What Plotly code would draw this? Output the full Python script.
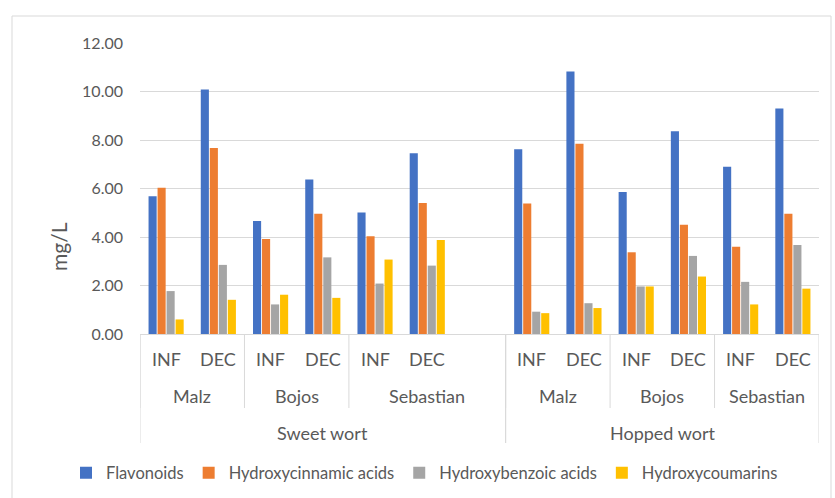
import plotly.graph_objects as go

# ---- data ----
wort = ["Sweet wort"] * 7 + ["Hopped wort"] * 6
variety = ["Malz", "Malz", "Bojos", "Bojos", "Sebastian", "Sebastian", "Sebastian",
           "Malz", "Malz", "Bojos", "Bojos", "Sebastian", "Sebastian"]
method = ["INF", "DEC", "INF", "DEC", "INF", "DEC", "",
          "INF", "DEC", "INF", "DEC", "INF", "DEC"]

flavonoids = [5.68, 10.08, 4.66, 6.37, 5.01, 7.45, None, 7.62, 10.82, 5.86, 8.36, 6.90, 9.30]
hydroxycinnamic = [6.03, 7.67, 3.92, 4.96, 4.03, 5.40, None, 5.38, 7.85, 3.37, 4.51, 3.60, 4.96]
hydroxybenzoic = [1.77, 2.85, 1.22, 3.16, 2.08, 2.82, None, 0.92, 1.27, 1.96, 3.22, 2.15, 3.67]
hydroxycoumarins = [0.60, 1.41, 1.62, 1.49, 3.07, 3.88, None, 0.86, 1.07, 1.96, 2.37, 1.22, 1.87]

series = [
    ("Flavonoids", flavonoids, "#4472C4"),
    ("Hydroxycinnamic acids", hydroxycinnamic, "#ED7D31"),
    ("Hydroxybenzoic acids", hydroxybenzoic, "#A5A5A5"),
    ("Hydroxycoumarins", hydroxycoumarins, "#FFC000"),
]

# ---- layout geometry (pixels) ----
W, H = 835, 498
L, R, T, B = 140, 16, 43, 164
pw, ph = W - L - R, H - T - B

def px_to_py(py):
    return (H - B - py) / ph

def px_to_px(px):
    return (px - L) / pw

FONT = "Lato"
GREY = "#595959"
LINE = "#D9D9D9"

n = len(method)
xs = list(range(n))

fig = go.Figure()
for name, vals, col in series:
    fig.add_trace(go.Bar(x=xs, y=vals, name=name, marker=dict(color=col, line=dict(width=0))))

shapes = []
annotations = []

# method labels
for i, m in enumerate(method):
    if m:
        annotations.append(dict(x=i, y=px_to_py(359), xref="x", yref="paper", text=m,
                                xanchor="center", yanchor="middle",
                                showarrow=False, font=dict(family=FONT, size=18, color=GREY)))

def runs_keys(keys, labels):
    out = []
    start = 0
    for i in range(1, len(keys) + 1):
        if i == len(keys) or keys[i] != keys[start]:
            out.append((start, i - 1, labels[start]))
            start = i
    return out

var_keys = [w + "|" + v for w, v in zip(wort, variety)]
var_runs = runs_keys(var_keys, variety)
wort_runs = runs_keys(wort, wort)

for s, e, lab in var_runs:
    annotations.append(dict(x=(s + e) / 2, y=px_to_py(396), xref="x", yref="paper", text=lab,
                            xanchor="center", yanchor="middle",
                            showarrow=False, font=dict(family=FONT, size=18, color=GREY)))
    shapes.append(dict(type="line", xref="x", yref="paper", x0=s - 0.5, x1=s - 0.5,
                       y0=0, y1=px_to_py(408), line=dict(color=LINE, width=1)))
for s, e, lab in wort_runs:
    annotations.append(dict(x=(s + e) / 2, y=px_to_py(433), xref="x", yref="paper", text=lab,
                            xanchor="center", yanchor="middle",
                            showarrow=False, font=dict(family=FONT, size=18, color=GREY)))
    shapes.append(dict(type="line", xref="x", yref="paper", x0=s - 0.5, x1=s - 0.5,
                       y0=0, y1=px_to_py(443), line=dict(color=LINE, width=1)))
    shapes.append(dict(type="line", xref="x", yref="paper", x0=e + 0.5, x1=e + 0.5,
                       y0=0, y1=px_to_py(443), line=dict(color=LINE, width=1)))

# outer chart border
shapes.append(dict(type="rect", xref="paper", yref="paper",
                   x0=px_to_px(12), x1=px_to_px(831), y0=px_to_py(505), y1=px_to_py(16),
                   line=dict(color=LINE, width=1), fillcolor="rgba(0,0,0,0)"))

# axis title
annotations.append(dict(x=px_to_px(58), y=px_to_py(247), xref="paper", yref="paper", text="mg/L",
                        xanchor="center", yanchor="middle",
                        textangle=-90, showarrow=False, font=dict(family=FONT, size=21, color=GREY)))

fig.update_layout(
    width=W, height=H,
    margin=dict(l=L, r=R, t=T, b=B, pad=0, autoexpand=False),
    paper_bgcolor="white", plot_bgcolor="white",
    barmode="group", bargap=0.31, bargroupgap=0.1,
    font=dict(family=FONT, color=GREY),
    shapes=shapes, annotations=annotations,
    legend=dict(orientation="h", x=px_to_px(66), xanchor="left",
                y=px_to_py(473), yanchor="middle",
                font=dict(family=FONT, size=16.5, color=GREY), itemwidth=30,
                traceorder="normal"),
    xaxis=dict(range=[-0.5, n - 0.5], showticklabels=False, showgrid=False, zeroline=False,
               showline=True, linecolor=LINE, linewidth=1, ticks=""),
    yaxis=dict(range=[0, 12], dtick=2, tickformat=".2f", showgrid=True, gridcolor=LINE,
               gridwidth=1, zeroline=False, showline=False, ticks="",
               ticklabelstandoff=16, tickfont=dict(family=FONT, size=16, color=GREY)),
)

fig.write_html("out.html", config={"displayModeBar": False},
               post_script="document.body.style.margin='0';")
